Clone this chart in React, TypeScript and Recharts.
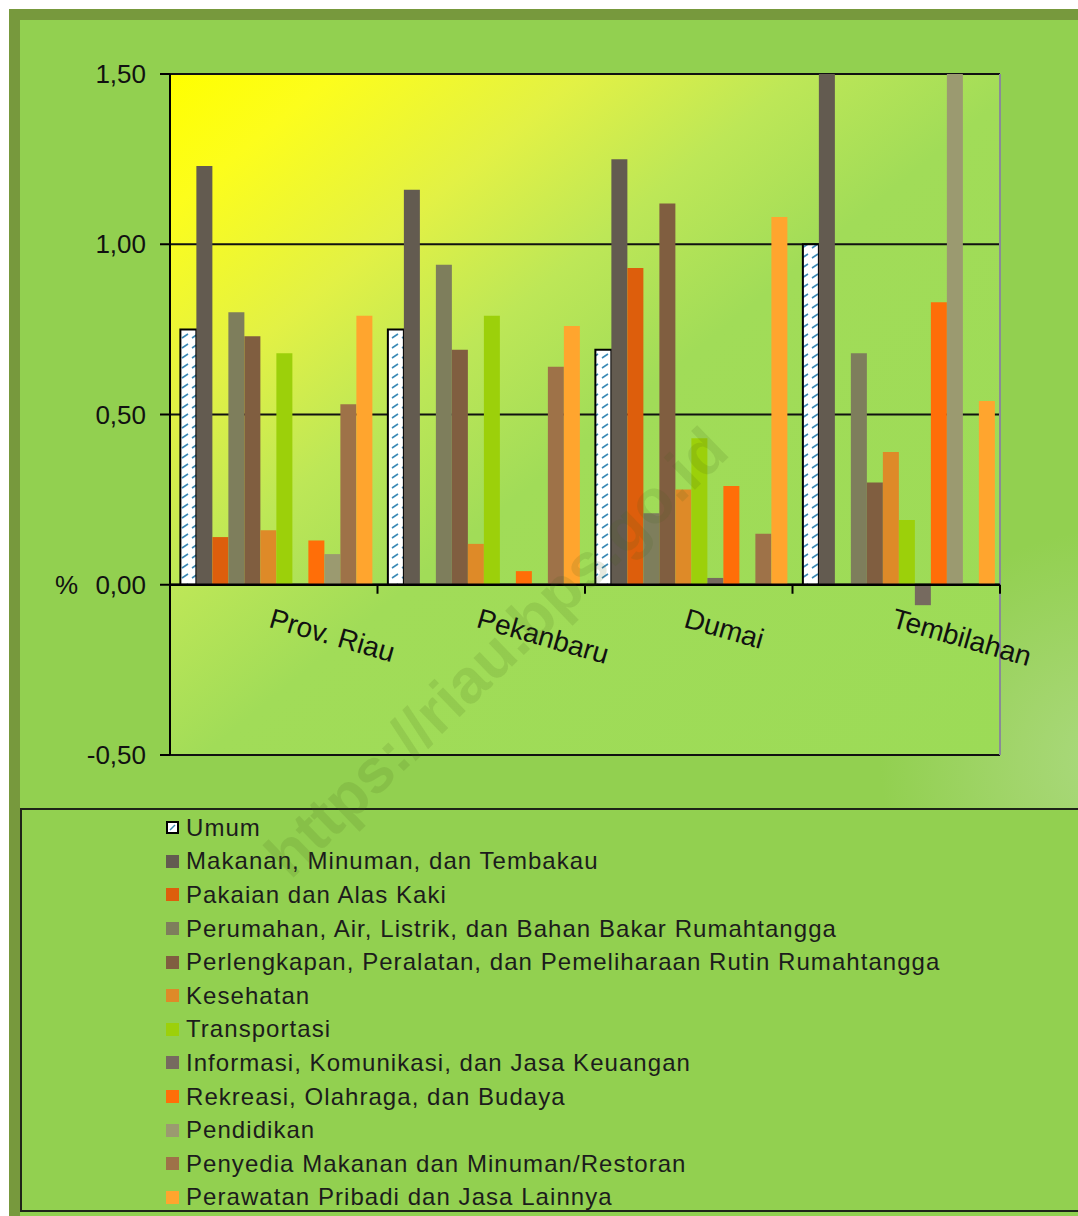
import * as React from "react";
import {
  BarChart, Bar, XAxis, YAxis, CartesianGrid, ReferenceLine,
} from "recharts";

// Inflasi per kelompok pengeluaran, 4 kota (persen)
const CATEGORIES = ["Prov. Riau", "Pekanbaru", "Dumai", "Tembilahan"];

const UMUM = [0.75, 0.75, 0.69, 1.0];
const MAKANAN = [1.23, 1.16, 1.25, 1.6];
const PAKAIAN = [0.14, 0, 0.93, 0];
const PERUMAHAN = [0.8, 0.94, 0.21, 0.68];
const PERLENGKAPAN = [0.73, 0.69, 1.12, 0.3];
const KESEHATAN = [0.16, 0.12, 0.28, 0.39];
const TRANSPORTASI = [0.68, 0.79, 0.43, 0.19];
const INFORMASI = [0, 0, 0.02, -0.06];
const REKREASI = [0.13, 0.04, 0.29, 0.83];
const PENDIDIKAN = [0.09, 0, 0, 1.6];
const PENYEDIA = [0.53, 0.64, 0.15, 0];
const PERAWATAN = [0.79, 0.76, 1.08, 0.54];

const Y_TICKS = [-0.5, 0, 0.5, 1, 1.5];

const SERIES = [
  { key: "umum", name: "Umum", values: UMUM, color: "url(#hatch)" },
  { key: "makanan", name: "Makanan, Minuman, dan Tembakau", values: MAKANAN, color: "#635b50" },
  { key: "pakaian", name: "Pakaian dan Alas Kaki", values: PAKAIAN, color: "#dd5e0c" },
  { key: "perumahan", name: "Perumahan, Air, Listrik, dan Bahan Bakar Rumahtangga", values: PERUMAHAN, color: "#7e7e5c" },
  { key: "perlengkapan", name: "Perlengkapan, Peralatan, dan Pemeliharaan Rutin Rumahtangga", values: PERLENGKAPAN, color: "#805e40" },
  { key: "kesehatan", name: "Kesehatan", values: KESEHATAN, color: "#de8a28" },
  { key: "transportasi", name: "Transportasi", values: TRANSPORTASI, color: "#9cd00a" },
  { key: "informasi", name: "Informasi, Komunikasi, dan Jasa Keuangan", values: INFORMASI, color: "#766a5f" },
  { key: "rekreasi", name: "Rekreasi, Olahraga, dan Budaya", values: REKREASI, color: "#ff6e08" },
  { key: "pendidikan", name: "Pendidikan", values: PENDIDIKAN, color: "#9b9a70" },
  { key: "penyedia", name: "Penyedia Makanan dan Minuman/Restoran", values: PENYEDIA, color: "#9e7248" },
  { key: "perawatan", name: "Perawatan Pribadi dan Jasa Lainnya", values: PERAWATAN, color: "#ffa52e" },
];

const data = CATEGORIES.map((name, i) => {
  const row: any = { name };
  SERIES.forEach((s) => { row[s.key] = s.values[i]; });
  return row;
});

const FONT = "'Liberation Sans', Arial, sans-serif";
const fmt = (v: number) => v.toFixed(2).replace(".", ",");

// zero line doubles as the category axis: boundary ticks + slanted labels
function ZeroAxis(props: any) {
  const { x1, x2, y1 } = props;
  const bw = (x2 - x1) / CATEGORIES.length;
  return (
    <g>
      <line x1={x1} x2={x2} y1={y1} y2={y1} stroke="#000" strokeWidth={2.5} />
      {Array.from({ length: CATEGORIES.length + 1 }, (_, i) => (
        <line key={i} x1={x1 + i * bw} x2={x1 + i * bw} y1={y1} y2={y1 + 9} stroke="#000" strokeWidth={2} />
      ))}
      {CATEGORIES.map((c, i) => {
        const cx = x1 + (i + 0.5) * bw - 6;
        const cy = y1 + 42;
        return (
          <text key={c} x={cx} y={cy} transform={`rotate(16 ${cx} ${cy})`}
                fontSize={28} fontFamily={FONT} fill="#111">{c}</text>
        );
      })}
      <text x={x1 - 92} y={y1 + 9} textAnchor="end" fontSize={26} fontFamily={FONT} fill="#111">%</text>
    </g>
  );
}

function LegendBox() {
  return (
    <div style={{
      position: "absolute", left: 20, top: 808, width: 1062, height: 404,
      border: "2px solid #1e2418", background: "#92d050", boxSizing: "border-box",
      paddingTop: 1, paddingLeft: 144,
    }}>
      {SERIES.map((s, i) => (
        <div key={s.key} style={{ height: 33.6, display: "flex", alignItems: "center",
          fontFamily: FONT, fontSize: 24, letterSpacing: 1.05, color: "#1c1c1c" }}>
          <svg width={13} height={13} style={{ marginRight: 7, flex: "none" }}>
            {i === 0 ? (
              <g>
                <rect x={1} y={1} width={11} height={11} fill="#fff" stroke="#000" strokeWidth={2} />
                <line x1={4} y1={9} x2={9} y2={4} stroke="#3c8cb4" strokeWidth={1.5} />
              </g>
            ) : (
              <rect x={0} y={0} width={13} height={13} fill={s.color} />
            )}
          </svg>
          <span>{s.name}</span>
        </div>
      ))}
    </div>
  );
}

export default function App() {
  return (
    <div style={{ position: "absolute", left: 0, top: 0, width: 1078, height: 1216, background: "#fff", overflow: "hidden" }}>
      <div style={{
        position: "absolute", left: 9, top: 9, width: 1080, height: 1210,
        borderTop: "11px solid #77993d", borderLeft: "11px solid #77993d", boxSizing: "border-box",
        background: "radial-gradient(circle at 1090px 740px, #aad97e 0px, #a2d56c 90px, #92d050 230px)",
      }} />
      <LegendBox />
      <div style={{ position: "absolute", left: 0, top: 0 }}>
        <BarChart width={1078} height={800} data={data}
                  margin={{ top: 74, right: 78, bottom: 45, left: 0 }}
                  barCategoryGap="5%" barGap={0}>
          <defs>
            <linearGradient id="plotBg" x1="0" y1="0" x2="1" y2="1">
              <stop offset="0" stopColor="#ffff00" />
              <stop offset="0.1" stopColor="#fcfd1c" />
              <stop offset="0.25" stopColor="#e2f145" />
              <stop offset="0.38" stopColor="#bde757" />
              <stop offset="0.52" stopColor="#a1dc58" />
              <stop offset="1" stopColor="#9cdb57" />
            </linearGradient>
            <pattern id="hatch" width={10} height={10} patternUnits="userSpaceOnUse">
              <rect width={10} height={10} fill="#fff" />
              <line x1={2} y1={8} x2={8} y2={4} stroke="#3a8ab6" strokeWidth={1.6} />
            </pattern>
          </defs>
          <CartesianGrid vertical={false} stroke="#111" strokeWidth={2} fill="url(#plotBg)" fillOpacity={1} />
          <CartesianGrid horizontal={false} stroke="#8a8a98" strokeWidth={2}
                         verticalCoordinatesGenerator={({ offset }: any) => [offset.left + offset.width]} />
          <XAxis dataKey="name" hide />
          <YAxis domain={[-0.5, 1.5]} ticks={Y_TICKS} allowDataOverflow width={170}
                 tickFormatter={fmt} tickSize={10} tickMargin={14}
                 axisLine={{ stroke: "#000", strokeWidth: 2 }} tickLine={{ stroke: "#000", strokeWidth: 2 }}
                 tick={{ fontSize: 26, fontFamily: FONT, fill: "#111" }} />
          {SERIES.map((s) => (
            <Bar key={s.key} dataKey={s.key} name={s.name} fill={s.color}
                 stroke={s.key === "umum" ? "#000" : undefined} strokeWidth={s.key === "umum" ? 2 : 0}
                 isAnimationActive={false} />
          ))}
          <ReferenceLine y={0} shape={ZeroAxis} ifOverflow="visible" />
        </BarChart>
      </div>
      <div style={{
        position: "absolute", left: 496, top: 652, transform: "translate(-50%, -50%) rotate(-44deg)",
        fontFamily: FONT, fontWeight: "bold", fontSize: 62, color: "rgba(70,100,30,0.14)",
        whiteSpace: "nowrap", pointerEvents: "none",
      }}>https://riau.bps.go.id</div>
    </div>
  );
}
